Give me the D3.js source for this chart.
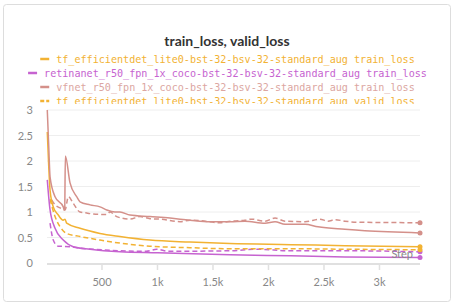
<!DOCTYPE html>
<html>
<head>
<meta charset="utf-8">
<script src="https://cdn.jsdelivr.net/npm/d3@7"></script>
<style>
  body { margin: 0; background: #fff; }
  svg { display: block; }
</style>
</head>
<body>
<div id="viz"></div>
<script>
const w = 455, h = 308;

// loss curves, [step, value]
const effdetTrain = [[7, 2.57], [20, 1.9], [32, 1.43], [61, 1.1], [106, 0.94], [150, 0.84], [167, 0.86], [182, 0.78],
  [302, 0.68], [482, 0.58], [662, 0.52], [932, 0.45], [1293, 0.41], [1653, 0.38], [2200, 0.36], [2689, 0.34], [3365, 0.32]];
const retinaTrain = [[7, 1.63], [32, 1.04], [77, 0.68], [151, 0.45], [241, 0.32], [392, 0.27], [662, 0.22],
  [1000, 0.2], [1653, 0.16], [2200, 0.14], [2689, 0.12], [3365, 0.11]];
const vfnetTrain = [[7, 3.0], [20, 2.3], [32, 1.69], [77, 1.3], [151, 1.1], [160, 1.04], [164, 1.05], [170, 2.1], [212, 1.57],
  [272, 1.3], [302, 1.2], [392, 1.14], [482, 1.1], [542, 1.04], [617, 1.0], [662, 1.0], [752, 0.94], [932, 0.91],
  [1113, 0.88], [1293, 0.84], [1473, 0.81], [1653, 0.81], [1788, 0.82], [1968, 0.78], [2059, 0.81], [2149, 0.76],
  [2329, 0.76], [2446, 0.71], [2689, 0.66], [2869, 0.63], [3365, 0.59]];
const effdetValid = [[32, 1.25], [77, 0.91], [122, 0.71], [182, 0.58], [302, 0.52], [482, 0.45], [662, 0.39],
  [932, 0.33], [1293, 0.3], [1653, 0.28], [2200, 0.28], [2689, 0.27], [3365, 0.26]];
const retinaValid = [[32, 0.78], [61, 0.45], [106, 0.33], [212, 0.32], [302, 0.29], [422, 0.27], [662, 0.24],
  [900, 0.23], [993, 0.27], [1100, 0.23], [1653, 0.24], [1900, 0.27], [2200, 0.24], [2689, 0.24], [3365, 0.22]];
const vfnetValid = [[47, 1.24], [77, 1.14], [122, 1.08], [167, 1.04], [197, 1.3], [241, 1.17], [302, 1.0], [362, 0.98],
  [422, 0.96], [542, 0.95], [572, 1.0], [632, 0.91], [752, 0.86], [842, 0.91], [932, 0.87], [1023, 0.86],
  [1203, 0.81], [1293, 0.84], [1383, 0.83], [1563, 0.79], [1626, 0.81], [1788, 0.84], [1849, 0.86], [1968, 0.82],
  [2059, 0.88], [2149, 0.82], [2329, 0.81], [2464, 0.86], [2536, 0.82], [2599, 0.85], [2689, 0.82], [2800, 0.8], [3365, 0.79]];

const legendNames = [
  "tf_efficientdet_lite0-bst-32-bsv-32-standard_aug train_loss",
  "retinanet_r50_fpn_1x_coco-bst-32-bsv-32-standard_aug train_loss",
  "vfnet_r50_fpn_1x_coco-bst-32-bsv-32-standard_aug train_loss",
  "tf_efficientdet_lite0-bst-32-bsv-32-standard_aug valid_loss"
];
const xTicks = [500, 1000, 1500, 2000, 2500, 3000];
const xTickLabels = ["500", "1k", "1.5k", "2k", "2.5k", "3k"];
const yTicks = [0, 0.5, 1, 1.5, 2, 2.5, 3];

const orange = "#f2b233", magenta = "#c663d0", rose = "#d4908a";

const series = [
  { data: retinaValid, color: magenta, dash: true },
  { data: effdetValid, color: orange, dash: true },
  { data: vfnetValid, color: rose, dash: true },
  { data: retinaTrain, color: magenta, dash: false },
  { data: effdetTrain, color: orange, dash: false },
  { data: vfnetTrain, color: rose, dash: false }
];
const legendColors = [orange, magenta, rose, orange];
const legendDash = [false, false, false, true];

const svg = d3.select("#viz")
  .append("svg")
  .attr("width", w)
  .attr("height", h);

// card
svg.append("rect")
  .attr("x", 3.5).attr("y", 4.5)
  .attr("width", 447).attr("height", 297)
  .attr("rx", 3)
  .attr("fill", "#fff")
  .attr("stroke", "#ddd");

svg.append("text")
  .attr("x", 227).attr("y", 46)
  .attr("text-anchor", "middle")
  .style("font", "bold 14px Lato, sans-serif")
  .style("fill", "#333")
  .text("train_loss, valid_loss");

// legend, clipped where the plot starts
svg.append("clipPath").attr("id", "legclip")
  .append("rect").attr("x", 0).attr("y", 48).attr("width", w).attr("height", 56);

const leg = svg.append("g").attr("clip-path", "url(#legclip)");
legendNames.forEach((name, i) => {
  const y = 59 + i * 14;
  const g = leg.append("g");
  const t = g.append("text")
    .attr("y", y + 3.5)
    .style("font", "10.1px 'DejaVu Sans Mono', monospace")
    .style("fill", legendColors[i])
    .style("opacity", i == 2 ? 0.8 : 1)
    .text(name);
  const tw = t.node().getComputedTextLength();
  const total = 16 + tw;
  const x0 = 227.5 - total / 2;
  t.attr("x", x0 + 16);
  g.append("line")
    .attr("x1", x0).attr("x2", x0 + 9)
    .attr("y1", y).attr("y2", y)
    .attr("stroke", legendColors[i])
    .attr("stroke-width", 2.5)
    .attr("stroke-dasharray", legendDash[i] ? "4,2" : null);
});

const x = d3.scaleLinear().domain([0, 3365]).range([46.5, 420]);
const y = d3.scaleLinear().domain([0, 3]).range([263, 110]);

// grid
svg.append("g")
  .selectAll("line")
  .data(yTicks.slice(1))
  .enter()
  .append("line")
  .attr("x1", 47).attr("x2", 420)
  .attr("y1", d => y(d)).attr("y2", d => y(d))
  .attr("stroke", "#eee");

svg.append("g")
  .selectAll("text")
  .data(yTicks)
  .enter()
  .append("text")
  .attr("x", 33)
  .attr("y", d => y(d) + 4)
  .attr("text-anchor", "end")
  .style("font", "11px Lato, sans-serif")
  .style("fill", "#888")
  .text(d => d);

// x axis
svg.append("line")
  .attr("x1", 47).attr("x2", 420)
  .attr("y1", 264).attr("y2", 264)
  .attr("stroke", "#e0e0e0")
  .attr("stroke-width", 2);

svg.append("g")
  .selectAll("line")
  .data(xTicks)
  .enter()
  .append("line")
  .attr("x1", d => x(d)).attr("x2", d => x(d))
  .attr("y1", 264).attr("y2", 270)
  .attr("stroke", "#e0e0e0")
  .attr("stroke-width", 1.5);

svg.append("g")
  .selectAll("text")
  .data(xTicks)
  .enter()
  .append("text")
  .attr("x", d => x(d))
  .attr("y", 286)
  .attr("text-anchor", "middle")
  .style("font", "11px Lato, sans-serif")
  .style("fill", "#888")
  .text((d, i) => xTickLabels[i]);

const line = d3.line()
  .curve(d3.curveMonotoneX)
  .x(d => x(d[0]))
  .y(d => y(d[1]));

svg.append("g")
  .selectAll("path")
  .data(series)
  .enter()
  .append("path")
  .attr("d", d => line(d.data))
  .attr("fill", "none")
  .attr("stroke", d => d.color)
  .attr("stroke-width", 1.5)
  .attr("stroke-dasharray", d => d.dash ? "5,3" : null);

svg.append("g")
  .selectAll("circle")
  .data(series)
  .enter()
  .append("circle")
  .attr("cx", d => x(d.data[d.data.length - 1][0]))
  .attr("cy", d => y(d.data[d.data.length - 1][1]))
  .attr("r", 2.5)
  .attr("fill", d => d.color);

svg.append("text")
  .attr("x", 413).attr("y", 258)
  .attr("text-anchor", "end")
  .style("font", "11px Lato, sans-serif")
  .style("fill", "#888")
  .text("Step");
</script>
</body>
</html>
